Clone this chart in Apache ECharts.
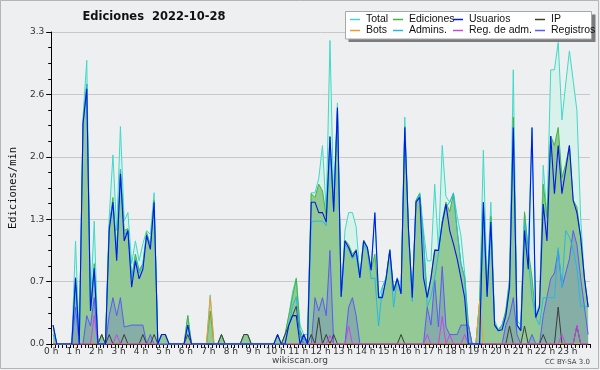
<!DOCTYPE html>
<html><head><meta charset="utf-8">
<script src="https://cdn.jsdelivr.net/npm/echarts@6/dist/echarts.min.js"></script>
<style>html,body{margin:0;padding:0;background:#eeeff1}#c{width:600px;height:370px}</style>
</head><body><div id="c"></div>
<script>
// 10-minute slots (144 per day), values in edits/min
const hourLabels = Array.from({length:24},(_,h)=>h+' h');
const total = [
.2,0,0,0,0,0,1.09,0,2.4,3.0,.42,1.3,
0,.1,0,1.34,2.0,1.2,2.3,1.3,1.39,.85,1.09,.88,
1.06,1.2,1.16,1.6,0,.1,.1,0,0,0,0,0,
.3,0,0,0,0,0,.52,0,0,.1,0,0,
0,0,0,.1,.1,0,0,0,0,0,0,0,
.1,0,.1,.3,.55,.7,.2,.1,.1,1.6,1.6,1.75,
2.1,1.4,3.21,1.5,2.55,.5,1.2,1.39,1.39,1.24,.72,1.1,
1.02,.78,1.39,.5,.6,.7,1.0,.56,.7,.55,2.4,1.2,
.5,1.52,1.6,1.2,.88,.88,1.69,1.0,2.1,1.56,1.5,1.6,
1.35,1.15,.75,.2,0,0,.45,2.05,.6,1.5,.25,.15,
.2,.35,.7,2.9,.25,.2,1.4,1.0,2.29,.3,.42,1.89,
1.34,2.9,2.9,3.19,2.37,2.75,3.1,2.79,2.47,1.34,.7,.4];
const ediciones = [
.2,0,0,0,0,0,.7,0,2.35,2.75,.35,.85,
0,.1,0,1.25,1.55,1.0,1.85,1.2,1.22,.7,.95,.78,
.85,1.18,1.05,1.52,0,.1,.1,0,0,0,0,0,
.3,0,0,0,0,0,.35,0,0,.1,0,0,
0,0,0,.1,.1,0,0,0,0,0,0,0,
.1,0,.1,.3,.5,.69,.15,.05,.05,1.59,1.55,1.69,
1.62,1.35,2.2,1.45,2.5,.5,1.1,1.05,.95,1.0,.72,1.1,
1.02,.78,.95,.5,.5,.7,1.0,.56,.7,.55,2.3,1.2,
.5,1.52,1.59,1.1,.5,.7,1.0,.99,1.3,1.5,1.4,1.59,
1.2,.85,.7,.2,0,0,.45,1.5,.55,1.35,.22,.15,
.2,.35,.67,2.4,.2,.15,1.39,.99,.7,.28,.4,1.69,
1.34,2.2,2.1,2.29,1.76,1.9,2.1,1.52,1.45,1.13,.7,.4];
const usuarios = [
.2,0,0,0,0,0,.7,0,2.33,2.7,.35,.8,
0,0,0,1.2,1.5,.88,1.8,1.09,1.2,.6,.88,.69,
.79,1.15,1.0,1.5,0,.1,.1,0,0,0,0,0,
.2,0,0,0,0,0,0,0,0,0,0,0,
0,0,0,0,0,0,0,0,0,0,0,0,
.1,0,0,.2,.3,.3,0,.1,0,1.5,1.5,1.39,
1.39,1.29,2.19,1.4,2.5,.5,1.09,1.02,.92,.99,.7,1.09,
1.02,.78,1.39,.49,.49,.69,.99,.56,.69,.53,2.29,1.2,
.49,1.5,1.55,.7,.49,.7,.99,.99,1.27,1.48,1.2,1.06,
.9,.7,.49,0,0,0,0,1.5,.5,1.29,.2,.14,
.15,.3,.6,2.29,.2,.14,1.2,.79,2.29,.28,.39,1.48,
1.09,2.2,1.59,2.1,1.59,1.84,2.1,1.52,1.39,1.13,.7,.39];
const ip = [
0,0,0,0,0,0,0,0,0,0,0,0,
0,.1,0,.1,0,0,0,.1,0,0,0,0,
.1,0,0,.1,0,0,0,0,0,0,0,0,
.1,0,0,0,0,0,0,0,0,.1,0,0,
0,0,0,.1,.1,0,0,0,0,0,0,0,
0,0,.1,.2,.3,.4,.1,0,0,.1,0,.28,
0,.1,0,.1,0,0,0,0,0,0,0,0,
0,0,0,0,0,0,0,0,0,.1,0,0,
0,0,0,0,0,0,0,0,0,0,0,0,
0,0,0,0,0,0,0,0,0,0,0,0,
0,0,.19,0,0,0,.19,0,0,0,0,.1,
0,0,0,.39,0,0,0,0,.19,0,0,0];
const bots = [
0,0,0,0,0,0,0,0,0,0,0,0,
0,0,0,0,0,0,0,0,0,0,0,0,
0,0,0,0,0,0,0,0,0,0,0,0,
0,0,0,0,0,0,.5,0,0,0,0,0,
0,0,0,0,0,0,0,0,0,0,0,0,
0,0,0,0,0,0,0,0,0,0,0,0,
0,0,0,0,0,0,0,0,0,0,0,0,
0,0,0,0,0,0,0,0,0,0,0,0,
0,0,0,0,0,0,0,0,0,0,0,0,
0,0,0,0,0,0,.45,0,0,0,0,0,
0,0,0,0,0,0,0,0,0,0,0,0,
0,0,0,0,0,0,0,0,0,0,0,0];
const admins = [
.1,0,0,0,0,0,.6,0,2.3,2.75,.35,.8,
0,0,0,1.25,1.5,.95,1.85,1.15,1.2,.7,.9,.75,
.85,1.15,1.05,1.5,0,0,0,0,0,0,0,0,
.2,0,0,0,0,0,0,0,0,0,0,0,
0,0,0,0,0,0,0,0,0,0,0,0,
0,0,0,.2,.4,.5,.1,0,0,1.29,1.3,1.3,
1.3,1.25,2.1,1.4,2.45,.5,1.05,1.0,.9,.95,.7,1.05,
.99,.69,.7,.19,.6,.7,.99,.39,.69,.53,2.29,1.15,
.45,1.5,1.58,1.1,.39,.5,.7,.95,1.3,1.45,1.5,1.59,
1.2,.85,.7,0,0,0,0,1.4,.5,1.3,.2,.14,
.2,.3,.6,2.3,.2,.14,1.3,.9,.49,.28,.2,.49,
.49,.49,.49,1.02,.6,1.2,1.13,1.0,.8,.4,.4,.39];
const regAdm = [
0,0,0,0,0,0,0,0,0,0,0,.3,
0,0,0,0,0,.1,0,0,0,0,0,0,
0,0,0,0,0,0,0,0,0,0,0,0,
0,0,0,0,0,0,0,0,0,0,0,0,
0,0,0,0,0,0,0,0,0,0,0,0,
0,0,0,0,0,0,0,0,0,0,0,0,
0,0,.09,0,0,0,0,.19,0,0,0,0,
0,0,0,0,0,0,0,0,0,0,0,0,
0,0,0,0,.1,0,0,0,.29,0,.1,0,
0,0,.1,0,0,0,0,0,0,0,0,0,
0,0,0,0,0,0,0,0,0,0,0,0,
0,0,0,0,.1,0,0,0,.2,0,0,0];
const registros = [
0,0,0,0,0,0,.39,0,0,.3,.19,.49,
0,0,0,.3,.49,.3,.49,.18,.19,.2,.2,.2,
.2,0,.1,0,0,0,0,0,0,0,0,0,
0,0,0,0,0,0,0,0,0,0,0,0,
0,0,0,0,0,0,0,0,0,0,0,0,
0,0,0,0,0,0,0,.1,0,0,.49,.35,
.49,.3,.99,0,0,0,0,.39,.49,.3,0,0,
0,0,0,0,0,0,0,0,0,0,0,0,
0,0,0,0,.39,.2,.68,.18,.82,.18,.1,.1,
.1,.2,.2,.2,0,0,0,0,0,0,0,0,
0,.2,.3,.49,.1,0,0,0,.1,0,0,.3,
.5,.69,.75,.99,.6,.75,.9,1.2,1.05,.7,.4,.1];

const pairs = a => a.map((v,i)=>[(i+0.5)/6, v]);
const chart = echarts.init(document.getElementById('c'), null, {renderer:'canvas'});
const F = 'DejaVu Sans';
function ln(name, data, color, width, area, z){
  const s = {name, type:'line', data:pairs(data), symbol:'none', smooth:false, z,
    lineStyle:{color, width}, itemStyle:{color}, emphasis:{disabled:true}};
  if (area) s.areaStyle = {color: area, opacity: 1};
  return s;
}
function legendCol(names, left){
  return {data:names, left, top:14, orient:'vertical', itemGap:0, itemWidth:10, itemHeight:1.5,
    icon:'rect', padding:0, z:20, selectedMode:false,
    textStyle:{fontFamily:'Liberation Sans', fontSize:10.5, color:'#111', lineHeight:10, padding:[0,0,0,1]}};
}
chart.setOption({
  animation:false,
  backgroundColor:'#eeeff1',
  grid:{left:45, right:10, top:32, bottom:26, containLabel:false},
  xAxis:{type:'value', min:0, max:24, interval:1,
    axisLine:{lineStyle:{color:'#000', width:1}},
    axisTick:{show:true, length:4, lineStyle:{color:'#000'}},
    minorTick:{show:true, splitNumber:6, length:4, lineStyle:{color:'#000'}},
    splitLine:{show:false},
    axisLabel:{margin:3, fontFamily:F, fontSize:9, color:'#333',
      formatter: v => (v>=24 ? '' : hourLabels[v])}},
  yAxis:{type:'value', min:0, max:3.3, interval:0.66,
    name:'Ediciones/min', nameLocation:'middle', nameGap:30, nameRotate:90,
    nameTextStyle:{fontFamily:'DejaVu Sans Mono', fontSize:10.5, color:'#111'},
    axisLine:{show:true, lineStyle:{color:'#000', width:1}},
    axisTick:{show:true, length:5, lineStyle:{color:'#000'}},
    minorTick:{show:true, splitNumber:4, length:3, lineStyle:{color:'#000'}},
    splitLine:{show:true, lineStyle:{color:'#c8c8c8', width:1}},
    axisLabel:{margin:7, fontFamily:F, fontSize:9, color:'#333', formatter: v => v.toFixed(1)}},
  legend:[legendCol(['Total','Bots'], 350), legendCol(['Ediciones','Admins.'], 393),
          legendCol(['Usuarios','Reg. de adm.'], 453), legendCol(['IP','Registros'], 535)],
  series:[
    ln('Total', total, '#40d8c8', 1, '#d8f1ea', 2),
    ln('Ediciones', ediciones, '#44b444', 1, '#92c994', 3),
    ln('Registros', registros, '#5a5af5', 1, 'rgba(95,95,225,0.25)', 4),
    ln('IP', ip, '#3c3c3c', 1, null, 5),
    ln('Bots', bots, '#f09a30', 1, null, 5),
    ln('Reg. de adm.', regAdm, '#c848e0', 1, null, 5),
    ln('Admins.', admins, '#28b8e0', 1, null, 6),
    ln('Usuarios', usuarios, '#0018e8', 1.1, null, 7)
  ],
  graphic:[
    {type:'rect', z:100, silent:true, shape:{x:0.5,y:0.5,width:598,height:368}, style:{fill:null, stroke:'#b4b4b4', lineWidth:1}},
    {type:'text', z:100, x:154, y:17, style:{text:'Ediciones  2022-10-28', fontFamily:F, fontWeight:'bold', fontSize:11.5, fill:'#111', textAlign:'center', textVerticalAlign:'middle'}},
    {type:'rect', z:10, shape:{x:348.5,y:14.5,width:247,height:27.5}, style:{fill:'#7c7c7c'}},
    {type:'rect', z:11, shape:{x:345.5,y:11.5,width:246,height:27.5}, style:{fill:'#ffffff', stroke:'#a8a8a8', lineWidth:1}},
    {type:'text', z:100, x:300, y:361, style:{text:'wikiscan.org', fontFamily:F, fontSize:9, fill:'#444', textAlign:'center', textVerticalAlign:'middle'}},
    {type:'text', z:100, x:590, y:362, style:{text:'CC BY-SA 3.0', fontFamily:F, fontSize:7, fill:'#444', textAlign:'right', textVerticalAlign:'middle'}}
  ]
});
</script></body></html>
